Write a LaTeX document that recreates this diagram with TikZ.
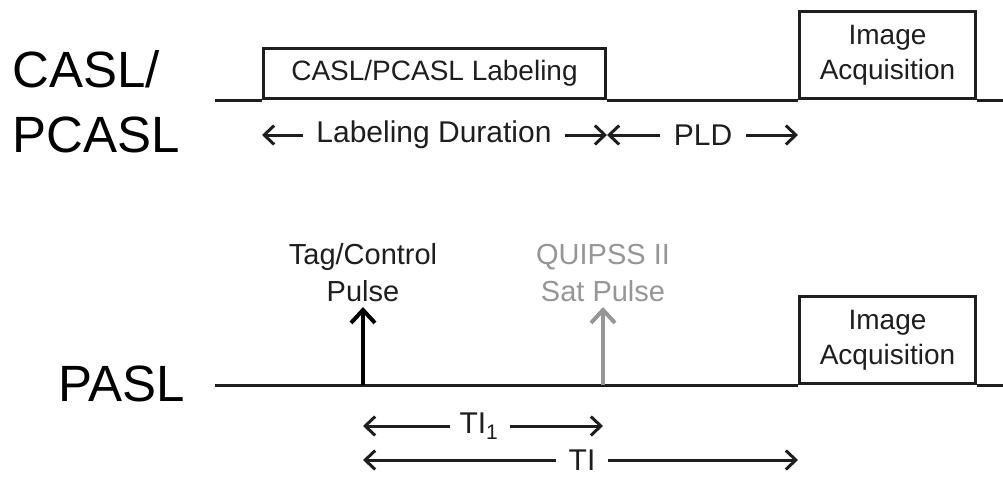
\documentclass[tikz,border=0pt]{standalone}
\usepackage{fontspec}
\setmainfont{Liberation Sans}
\usetikzlibrary{positioning,arrows.meta}
\definecolor{inkgray}{RGB}{30,30,30}
\definecolor{satgray}{RGB}{150,150,150}
\tikzset{
  seqline/.style={line width=3pt,draw=inkgray},
  pbox/.style={draw=inkgray,line width=3pt,anchor=south west,inner sep=0pt,align=center,text=inkgray,font=\fontsize{28}{35}\selectfont},
  dimlbl/.style={inner sep=0pt,text=inkgray,font=\fontsize{30}{35}\selectfont},
  dimarr/.style={line width=3pt,draw=inkgray,-{Straight Barb[length=10pt,width=19pt,line width=3pt]}},
  pulsearr/.style={line width=4pt,-{Straight Barb[length=13pt,width=24pt,line width=4pt]}},
  plbl/.style={align=center,inner sep=0pt,font=\fontsize{29}{37}\selectfont},
  seqlbl/.style={inner sep=0pt,text=black,font=\fontsize{51}{65}\selectfont}
}
\begin{document}
\begin{tikzpicture}[x=1pt,y=-1pt]
  \useasboundingbox (0,0) rectangle (1003,477);
  % sequence names
  \node[seqlbl,anchor=west,align=left] (caslname) at (12,102) {CASL/\\PCASL};
  \node[seqlbl,anchor=east] (paslname) at (185,384) {PASL};
  % CASL/PCASL row
  \coordinate (l1) at (215,100); \coordinate (r1) at (1003,100);
  \node[pbox,minimum width=342pt,minimum height=50pt] (lab) at (262,100) {CASL/PCASL Labeling};
  \node[pbox,minimum width=176pt,minimum height=87pt] (img1) at (798,100) {Image\\Acquisition};
  \draw[seqline] (l1) -- (lab.south west) (lab.south east) -- (img1.south west) (img1.south east) -- (r1);
  \node[dimlbl] (durtxt) at (434,135) {Labeling Duration};
  \node[dimlbl] (pldtxt) at (703,135) {PLD};
  \draw[dimarr] ([xshift=-13pt]durtxt.west) -- (lab.south west |- durtxt.west);
  \draw[dimarr] ([xshift=13pt]durtxt.east) -- (lab.south east |- durtxt.east);
  \draw[dimarr] ([xshift=-14pt]pldtxt.west) -- (lab.south east |- pldtxt.west);
  \draw[dimarr] ([xshift=14pt]pldtxt.east) -- (img1.south west |- pldtxt.east);
  % PASL row
  \coordinate (l2) at (215,385); \coordinate (r2) at (1003,385);
  \coordinate (tag) at (363,385); \coordinate (sat) at (603,385);
  \coordinate (tagtip) at (363,307); \coordinate (sattip) at (603,307);
  \node[pbox,minimum width=176pt,minimum height=87pt] (img2) at (798,385) {Image\\Acquisition};
  \draw[seqline] (l2) -- (img2.south west) (img2.south east) -- (r2);
  \draw[pulsearr,draw=black] (tag) -- (tagtip);
  \draw[pulsearr,draw=satgray] (sat) -- (sattip);
  \node[plbl,text=inkgray,anchor=south] (tagtxt) at (363,302) {Tag/Control\\Pulse};
  \node[plbl,text=satgray,anchor=south] (sattxt) at (603,302) {QUIPSS II\\Sat Pulse};
  % inversion times
  \node[dimlbl] (ti1txt) at (479,426) {TI\textsubscript{1}};
  \node[dimlbl] (titxt) at (582,460) {TI};
  \draw[dimarr] ([xshift=-9pt]ti1txt.west) -- (tag |- ti1txt.west);
  \draw[dimarr] ([xshift=11pt]ti1txt.east) -- (sat |- ti1txt.east);
  \draw[dimarr] ([xshift=-12pt]titxt.west) -- (tag |- titxt.west);
  \draw[dimarr] ([xshift=12pt]titxt.east) -- (img2.south west |- titxt.east);
\end{tikzpicture}
\end{document}
